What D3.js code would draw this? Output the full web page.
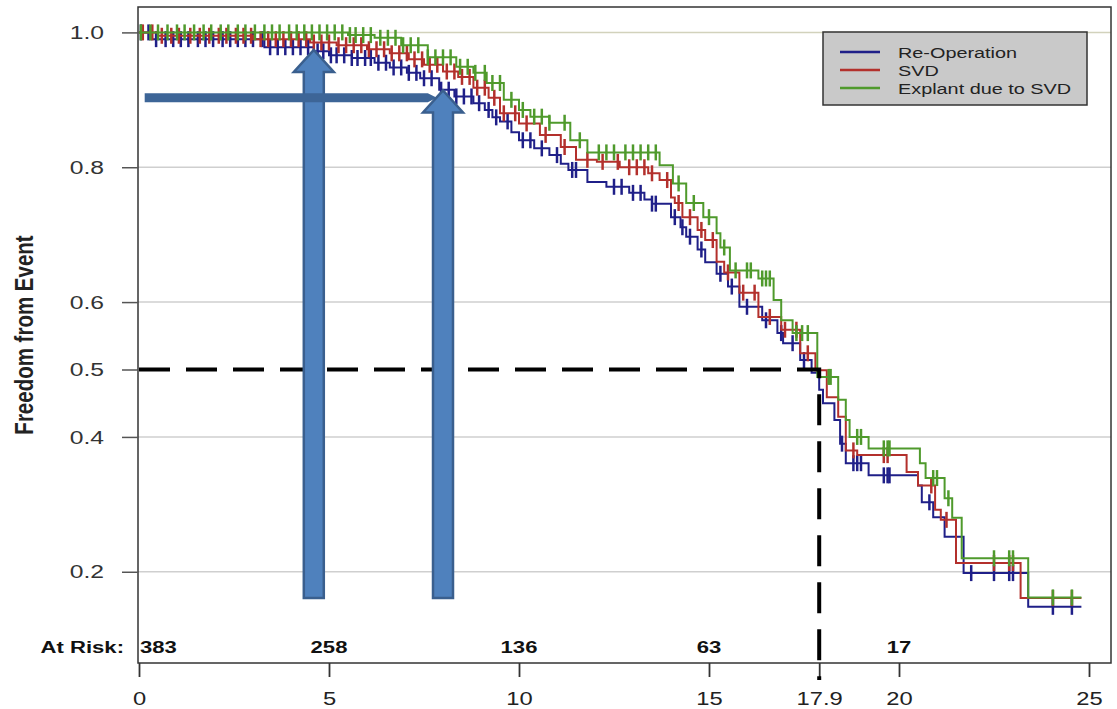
<!DOCTYPE html>
<html>
<head>
<meta charset="utf-8">
<script src="https://cdnjs.cloudflare.com/ajax/libs/d3/7.8.5/d3.min.js"></script>
<style>
body { margin: 0; background: #fff; }
text { font-family: "Liberation Sans", Arial, sans-serif; }
</style>
</head>
<body>
<div id="viz"></div>
<script>
// step curves: event time (years) and freedom after that event
let blueTimes = [0, 0.3, 3.3, 4.6, 5.0, 5.6, 6.2, 6.6, 7.05, 7.4, 7.9, 8.3, 8.8, 9.1, 9.3, 9.5, 9.8, 10.0, 10.4, 10.8, 11.1, 11.3, 11.8, 12.3, 12.9, 13.3, 13.5, 14.0, 14.25, 14.4, 14.7, 14.9, 15.2, 15.5, 15.8, 16.4, 16.8, 16.95, 17.4, 17.7, 17.9, 18.0, 18.3, 18.45, 18.6, 19.2, 20.5, 20.6, 20.9, 21.2, 21.7, 23.4]
let blueSurv  = [1.0, 0.99, 0.978, 0.972, 0.966, 0.962, 0.955, 0.948, 0.940, 0.932, 0.915, 0.905, 0.895, 0.885, 0.874, 0.868, 0.852, 0.840, 0.828, 0.818, 0.805, 0.796, 0.778, 0.771, 0.762, 0.752, 0.746, 0.726, 0.711, 0.697, 0.678, 0.659, 0.642, 0.623, 0.593, 0.573, 0.554, 0.539, 0.514, 0.495, 0.470, 0.450, 0.425, 0.39, 0.361, 0.343, 0.328, 0.303, 0.281, 0.252, 0.198, 0.148]

let redTimes = [0, 0.5, 3.0, 4.5, 5.2, 6.0, 6.6, 7.1, 7.5, 8.0, 8.4, 8.8, 9.2, 9.5, 10.0, 10.55, 11.1, 11.5, 12.05, 12.65, 13.4, 13.7, 14.0, 14.1, 14.3, 14.7, 14.9, 15.2, 15.4, 15.8, 16.3, 16.9, 17.4, 17.8, 18.1, 18.4, 18.6, 18.9, 20.2, 20.5, 20.95, 21.1, 21.5, 23.2]
let redSurv  = [1.0, 0.995, 0.99, 0.985, 0.981, 0.975, 0.969, 0.96, 0.952, 0.942, 0.934, 0.918, 0.903, 0.880, 0.865, 0.848, 0.830, 0.811, 0.808, 0.800, 0.791, 0.781, 0.755, 0.747, 0.726, 0.707, 0.692, 0.660, 0.644, 0.614, 0.578, 0.559, 0.524, 0.499, 0.459, 0.430, 0.38, 0.373, 0.348, 0.328, 0.292, 0.277, 0.213, 0.161]

let greenTimes = [0, 5.5, 6.2, 6.9, 7.6, 8.35, 8.8, 9.15, 9.6, 10.0, 10.3, 10.8, 11.35, 11.8, 13.7, 14.05, 14.4, 14.85, 15.2, 15.3, 15.55, 16.3, 16.7, 16.9, 17.2, 17.85, 18.4, 18.6, 18.7, 19.2, 20.55, 20.7, 21.2, 21.4, 21.65, 23.4]
let greenSurv  = [1.0, 0.996, 0.992, 0.981, 0.963, 0.949, 0.94, 0.925, 0.9, 0.885, 0.875, 0.866, 0.840, 0.822, 0.803, 0.776, 0.747, 0.726, 0.702, 0.681, 0.647, 0.635, 0.603, 0.573, 0.554, 0.489, 0.455, 0.425, 0.400, 0.383, 0.361, 0.339, 0.309, 0.280, 0.220, 0.162]

// censoring marks (times)
let blueCens = [0.05, 0.25, 0.45, 0.7, 0.9, 1.1, 1.3, 1.55, 1.75, 1.95, 2.2, 2.4, 2.6, 2.8, 3.0, 3.25, 3.45, 3.65, 3.85, 4.05, 4.25, 4.45, 4.7, 4.85, 5.05, 5.2, 5.4, 5.6, 5.75, 5.95, 6.1, 6.3, 6.5, 6.7, 6.9, 7.1, 7.3, 7.5, 7.7, 7.95, 8.15, 8.35, 8.55, 8.75, 8.95, 9.2, 9.4, 9.7, 10.1, 10.3, 10.6, 11.0, 11.4, 11.5, 12.5, 12.7, 13.0, 13.2, 13.5, 13.6, 14.1, 14.3, 14.5, 14.8, 15.3, 15.6, 16.0, 16.5, 16.9, 17.2, 17.5, 18.5, 18.8, 18.9, 19.0, 19.6, 19.7, 19.75, 20.8, 21.9, 22.5, 22.9, 23.0, 24.05, 24.55]
let redCens = [0.1, 0.35, 0.6, 0.85, 1.05, 1.35, 1.6, 1.85, 2.1, 2.3, 2.55, 2.75, 2.95, 3.2, 3.4, 3.6, 3.8, 4.0, 4.2, 4.4, 4.6, 4.8, 5.0, 5.25, 5.45, 5.65, 5.85, 6.05, 6.25, 6.45, 6.65, 6.85, 7.05, 7.25, 7.45, 7.65, 7.85, 8.1, 8.3, 8.5, 8.7, 8.9, 9.1, 9.35, 9.6, 9.9, 10.2, 10.7, 11.2, 11.8, 12.2, 12.6, 12.9, 13.1, 13.3, 13.5, 13.9, 14.2, 14.5, 14.8, 15.1, 15.5, 15.9, 16.2, 16.6, 17.0, 17.3, 17.6, 18.8, 19.6, 19.7, 20.85, 21.25, 22.5, 22.9, 23.0, 24.05, 24.55]
let greenCens = [0.05, 0.3, 0.5, 0.75, 1.0, 1.2, 1.45, 1.7, 1.9, 2.15, 2.35, 2.6, 2.8, 3.05, 3.3, 3.5, 3.7, 3.95, 4.15, 4.35, 4.55, 4.75, 4.95, 5.15, 5.35, 5.55, 5.7, 5.9, 6.1, 6.35, 6.55, 6.75, 6.95, 7.15, 7.35, 7.6, 7.8, 8.0, 8.2, 8.45, 8.65, 8.85, 9.1, 9.3, 9.5, 9.8, 10.1, 10.4, 10.6, 10.8, 11.2, 11.6, 12.1, 12.3, 12.5, 12.8, 13.0, 13.2, 13.4, 13.6, 14.2, 14.6, 15.0, 15.4, 15.7, 16.0, 16.1, 16.4, 16.5, 16.6, 17.3, 17.45, 17.6, 18.15, 18.2, 18.9, 19.0, 19.6, 19.7, 19.75, 20.9, 21.0, 21.3, 22.5, 22.9, 23.0, 24.05, 24.55]

let seriesNames = ["Re-Operation", "SVD", "Explant due to SVD"]
let seriesColors = ["#1f1f88", "#b3302c", "#4f9a2c"]
let endTime = 24.8

let xTicks = [0, 5, 10, 15, 17.9, 20, 25]
let yTicks = [0.2, 0.4, 0.5, 0.6, 0.8, 1.0]
let gridVals = [0.2, 0.4, 0.6, 0.8, 1.0]
let riskTimes = [0, 5, 10, 15, 20]
let riskCounts = [383, 258, 136, 63, 17]

// annotations (data units)
let medianTime = 17.9, medianValue = 0.5
let arrowTimes = [4.6, 8.0]
let arrowTips = [0.974, 0.914]
let arrowBase = 0.161
let barLevel = 0.903, barStart = 0.15, barEnd = 7.6

const W = 1117, H = 709
const stretch = 1.3   // the picture is stretched sideways, text too

let svg = d3.select("#viz")
  .append("svg")
    .attr("width", W)
    .attr("height", H)

let x = d3.scaleLinear().domain([0, 25]).range([139, 1089])
let y = d3.scaleLinear().domain([0, 1]).range([706.6, 32.4])
let box = {left: 138, right: 1111, top: 7, bottom: 663}

// grid
svg.append("g").selectAll("line")
  .data(gridVals)
  .join("line")
    .attr("x1", box.left).attr("x2", box.right)
    .attr("y1", d => y(d)).attr("y2", d => y(d))
    .attr("stroke", d => d === 1 ? "#d2d2bc" : "#cfcfcf")
    .attr("stroke-width", 1.5)

// curves
let series = [
  {times: blueTimes, surv: blueSurv, cens: blueCens},
  {times: redTimes, surv: redSurv, cens: redCens},
  {times: greenTimes, surv: greenSurv, cens: greenCens}
]

let line = d3.line()
  .x(d => x(d[0]))
  .y(d => y(d[1]))
  .curve(d3.curveStepAfter)

series.forEach((s, i) => {
  let pts = s.times.map((t, j) => [t, s.surv[j]])
  pts.push([endTime, s.surv[s.surv.length - 1]])
  let g = svg.append("g")
  g.append("path")
    .attr("d", line(pts))
    .attr("fill", "none")
    .attr("stroke", seriesColors[i])
    .attr("stroke-width", 2)

  g.selectAll("line")
    .data(s.cens)
    .join("line")
      .attr("x1", d => x(d)).attr("x2", d => x(d))
      .attr("y1", d => y(s.surv[d3.bisectRight(s.times, d) - 1]) - 8)
      .attr("y2", d => y(s.surv[d3.bisectRight(s.times, d) - 1]) + 8)
      .attr("stroke", seriesColors[i])
      .attr("stroke-width", 2.5)
})

// frame
svg.append("rect")
  .attr("x", box.left).attr("y", box.top)
  .attr("width", box.right - box.left).attr("height", box.bottom - box.top)
  .attr("fill", "none")
  .attr("stroke", "#333")
  .attr("stroke-width", 1.5)

// axes
let yAxis = d3.axisLeft(y)
  .tickValues(yTicks)
  .tickSize(16)
  .tickFormat(d3.format(".1f"))

let gy = svg.append("g")
  .attr("transform", `translate(${box.left},0)`)
  .call(yAxis)
gy.select(".domain").remove()
gy.selectAll(".tick line").attr("stroke", "#555").attr("stroke-width", 1.5)
gy.selectAll(".tick text")
  .attr("x", 0)
  .attr("transform", `translate(-34,0) scale(${stretch},1)`)
  .attr("font-size", 19)
  .attr("fill", "#333")

let xAxis = d3.axisBottom(x)
  .tickValues(xTicks)
  .tickSize(14)
  .tickFormat(d => d === 17.9 ? "17.9" : d3.format("d")(d))

let gx = svg.append("g")
  .attr("transform", `translate(0,${box.bottom})`)
  .call(xAxis)
gx.select(".domain").remove()
gx.selectAll(".tick line").attr("stroke", "#333").attr("stroke-width", 1.8)
gx.selectAll(".tick text")
  .attr("y", 0).attr("dy", 0)
  .attr("transform", `translate(0,42) scale(1.25,1)`)
  .attr("font-size", 19)
  .attr("fill", "#222")

// y title
svg.append("text")
  .attr("transform", `translate(33,335) scale(${stretch},1) rotate(-90)`)
  .attr("text-anchor", "middle")
  .attr("font-size", 20.5)
  .attr("font-weight", "bold")
  .attr("fill", "#222")
  .text("Freedom from Event")

// at risk row
svg.append("text")
  .attr("transform", `translate(124,653) scale(${stretch},1)`)
  .attr("text-anchor", "end")
  .attr("font-size", 17)
  .attr("font-weight", "bold")
  .attr("fill", "#111")
  .text("At Risk:")

svg.append("g").selectAll("text")
  .data(riskCounts)
  .join("text")
    .attr("transform", (d, i) => `translate(${i === 0 ? x(riskTimes[i]) + 1 : x(riskTimes[i])},653) scale(${stretch},1)`)
    .attr("text-anchor", (d, i) => i === 0 ? "start" : "middle")
    .attr("font-size", 17)
    .attr("font-weight", "bold")
    .attr("fill", "#111")
    .text(d => d)

// legend
let lg = svg.append("g")
lg.append("rect")
  .attr("x", 823).attr("y", 32)
  .attr("width", 264).attr("height", 73)
  .attr("fill", "#c9c9c9")
  .attr("stroke", "#333")
  .attr("stroke-width", 1.5)
seriesNames.forEach((n, i) => {
  let ly = 52 + i * 18
  lg.append("line")
    .attr("x1", 840).attr("x2", 880)
    .attr("y1", ly).attr("y2", ly)
    .attr("stroke", seriesColors[i])
    .attr("stroke-width", 2.5)
  lg.append("text")
    .attr("transform", `translate(898,${ly + 5.5}) scale(1.28,1)`)
    .attr("font-size", 15.5)
    .attr("fill", "#222")
    .text(n)
})

// median dashed guide
svg.append("path")
  .attr("d", `M${x(0)},${y(medianValue)} H${x(medianTime)} V${box.bottom + 17}`)
  .attr("fill", "none")
  .attr("stroke", "#000")
  .attr("stroke-width", 4)
  .attr("stroke-dasharray", "31,16")

// blue arrows laid over the plot
function vArrow(cx, yTop, yBot) {
  let sw = 10, hw = 20, hh = 22
  return `M${cx - sw},${yBot} L${cx - sw},${yTop + hh} L${cx - hw},${yTop + hh} L${cx},${yTop} ` +
         `L${cx + hw},${yTop + hh} L${cx + sw},${yTop + hh} L${cx + sw},${yBot} Z`
}

function drawArrow(i) {
  svg.append("path")
    .attr("d", vArrow(x(arrowTimes[i]), y(arrowTips[i]), y(arrowBase)))
    .attr("fill", "#4f81bd")
    .attr("stroke", "#3a5f8e")
    .attr("stroke-width", 2.5)
}

drawArrow(0)

let by = y(barLevel), bx0 = x(barStart), bx1 = x(barEnd)
svg.append("path")
  .attr("d", `M${bx0},${by - 4.5} L${bx1},${by - 4.5} L${bx1 + 9},${by} L${bx1},${by + 4.5} L${bx0},${by + 4.5} Z`)
  .attr("fill", "#3d6597")

drawArrow(1)
</script>
</body>
</html>
